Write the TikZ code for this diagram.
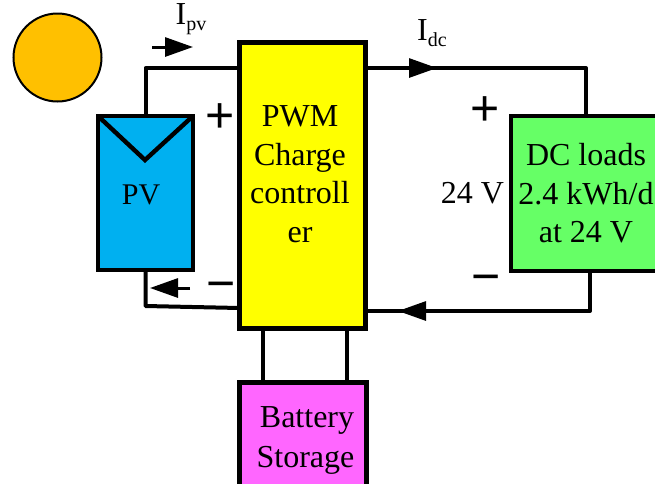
\documentclass[tikz,border=0pt]{standalone}
\usepackage{fontspec}
\setmainfont{Liberation Serif}
\newfontfamily\signfont{Liberation Sans}
\usetikzlibrary{arrows.meta}
\definecolor{sunorange}{HTML}{FFC000}
\definecolor{pvblue}{HTML}{00B0F0}
\definecolor{ctrlyellow}{HTML}{FFFF00}
\definecolor{loadgreen}{HTML}{66FF66}
\definecolor{battmagenta}{HTML}{FF66FF}
\tikzset{
  >={Triangle[length=28pt,width=19pt]},
  block/.style={draw, line width=4.4pt, outer sep=0pt, inner sep=0pt, align=center, font=\fontsize{32}{38.5}\selectfont},
  caption/.style={inner sep=0pt, align=center, font=\fontsize{32}{38.5}\selectfont},
  sign/.style={inner sep=0pt, font=\fontsize{50}{50}\selectfont\signfont},
  wire/.style={line width=4pt, line join=round},
  flow/.style={->, line width=3pt}
}
\newcommand{\current}[2]{#1\raisebox{-6pt}{\fontsize{20}{20}\selectfont #2}}
\begin{document}
\begin{tikzpicture}[x=1pt, y=-1pt]
\useasboundingbox (0,0) rectangle (655,483);
\node[draw, circle, line width=2pt, fill=sunorange, minimum size=88pt, inner sep=0pt] (sun) at (57.5,57.5) {};
\node[block, fill=pvblue, minimum width=95pt, minimum height=154pt] (pv) at (145.5,193) {};
\node[block, fill=ctrlyellow, minimum width=126pt, minimum height=286pt] (ctrl) at (302.5,185.5) {};
\node[block, fill=loadgreen, minimum width=150pt, minimum height=155pt] (load) at (586,193.5) {DC loads\\2.4 kWh/d\\at 24 V};
\node[block, fill=battmagenta, minimum width=127pt, minimum height=116pt, font=\fontsize{32}{40}\selectfont] (batt) at (303,440.5) {\hspace*{8pt}Battery\\\hspace*{5pt}Storage};
\node[caption, font=\fontsize{30}{30}\selectfont] (pvlabel) at (141,195) {PV};
\node[caption] (ctrllabel) at (300,174) {PWM\\Charge\\controll\\er};
\node[caption] (volts) at (472.5,193) {24 V};
\node[caption] (ipv) at (191,19) {\current{I}{pv}};
\node[caption] (idc) at (432,33) {\current{I}{dc}};
\node[sign] (pvplus) at (220,118) {+};
\node[sign] (pvminus) at (221,291) {−};
\node[sign] (loadplus) at (485,111) {+};
\node[sign] (loadminus) at (486,284) {−};
\coordinate (pvtip) at (145,160);
\coordinate (ctrlpvtop) at (239.5,68);
\coordinate (pvcorner) at (145.5,306);
\coordinate (ctrlpvbot) at (239.5,308);
\coordinate (ctrlout) at (365.5,68);
\coordinate (ctrlret) at (365.5,311);
\coordinate (loadret) at (590,271);
\coordinate (ctrlbattl) at (263,328.5);
\coordinate (ctrlbattr) at (347,328.5);
\coordinate (ipvtail) at (152,47);
\coordinate (ipvhead) at (193,47);
\coordinate (ipvbacktail) at (190,288);
\coordinate (ipvbackhead) at (150,288);
\coordinate (idctail) at (397,68);
\coordinate (idchead) at (437,68);
\coordinate (idcbacktail) at (430,311);
\coordinate (idcbackhead) at (398,311);
\draw[line width=4.4pt, line join=miter] (pv.north west) -- (pvtip) -- (pv.north east);
\draw[wire] (pv.north) |- (ctrlpvtop);
\draw[wire] (pv.south) -- (pvcorner) -- (ctrlpvbot);
\draw[wire] (ctrlout) -| (load.north);
\draw[wire] (loadret) |- (ctrlret);
\draw[wire] (ctrlbattl) -- (ctrlbattl |- batt.north);
\draw[wire] (ctrlbattr) -- (ctrlbattr |- batt.north);
\draw[flow] (ipvtail) -- (ipvhead);
\draw[flow] (ipvbacktail) -- (ipvbackhead);
\draw[flow] (idctail) -- (idchead);
\draw[flow] (idcbacktail) -- (idcbackhead);
\end{tikzpicture}
\end{document}
